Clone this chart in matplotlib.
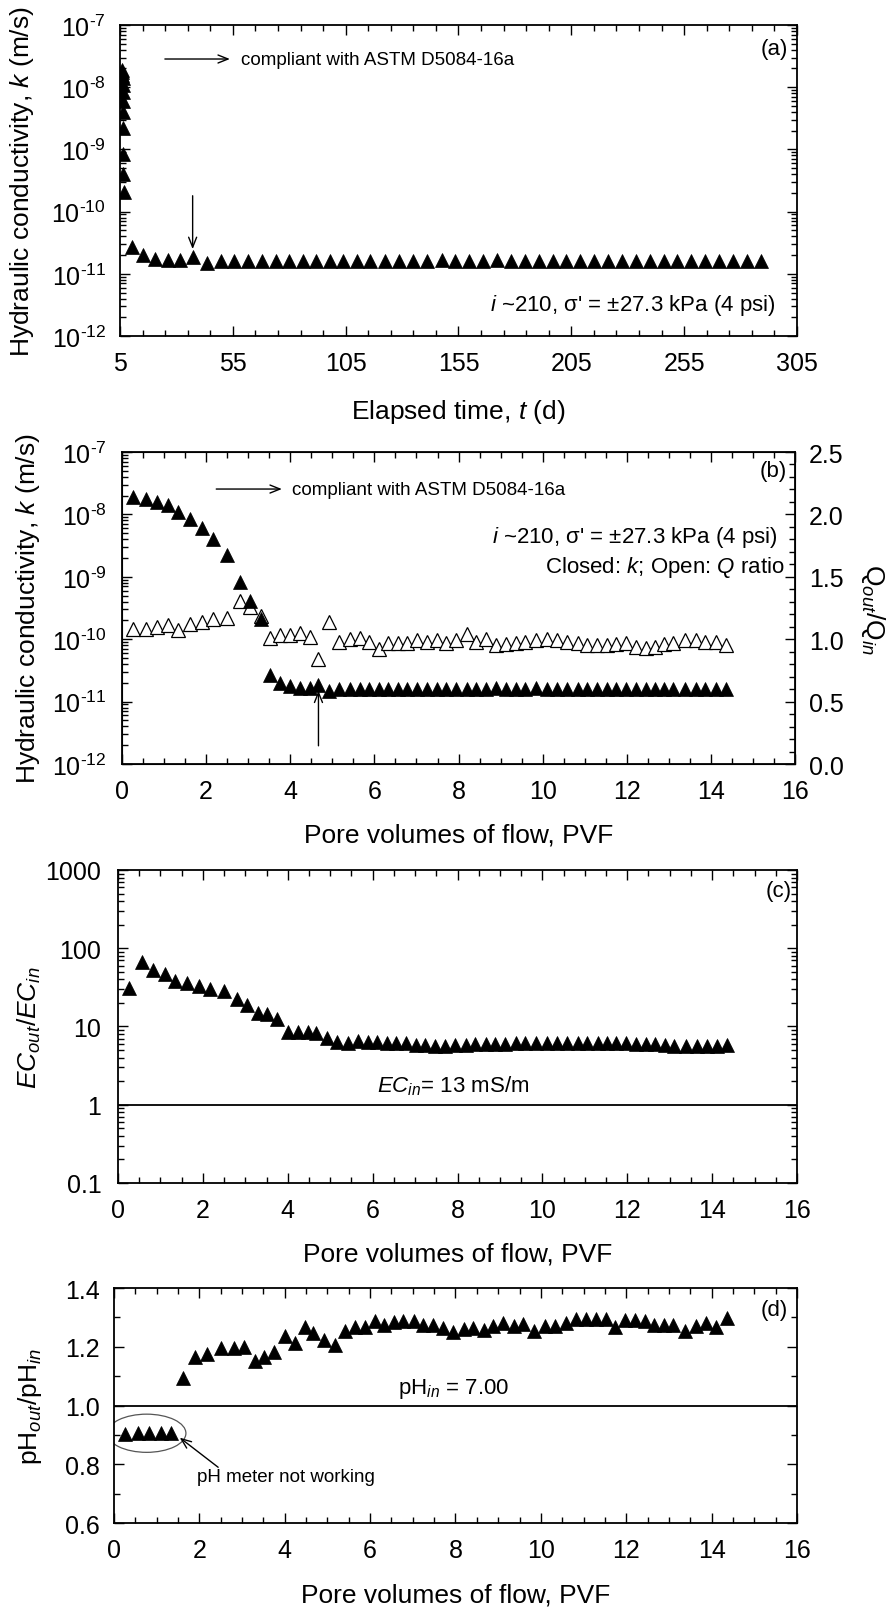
import matplotlib
matplotlib.use("Agg")
import matplotlib.pyplot as plt
import numpy as np
from matplotlib.patches import Ellipse
from matplotlib.ticker import (FixedLocator, MultipleLocator, LogLocator,
                               FuncFormatter, FormatStrFormatter, NullFormatter)

plt.rcParams["font.family"] = ["Liberation Sans", "DejaVu Sans"]
plt.rcParams["mathtext.fontset"] = "custom"
plt.rcParams["mathtext.rm"] = "Liberation Sans"
plt.rcParams["mathtext.it"] = "Liberation Sans:italic"
plt.rcParams["mathtext.bf"] = "Liberation Sans:bold"
plt.rcParams["axes.unicode_minus"] = False

# ---- data ----
# elapsed time (d) for every k reading
time_d = [6.0, 6.1, 6.1, 6.2, 6.2, 6.3, 6.3, 6.4, 6.4, 6.5, 6.5, 6.6,
          10.2, 15.0, 20.5, 26.4, 31.6, 37.2, 43.7, 49.6, 55.6, 61.8,
          67.8, 74.1, 80.0, 85.9, 91.8, 98.0, 103.9, 110.1, 116.0, 122.4,
          128.6, 134.9, 141.2, 147.5, 153.6, 159.8, 165.9, 172.1, 178.2,
          184.4, 190.5, 196.7, 202.8, 209.0, 215.1, 221.3, 227.4, 233.6,
          239.7, 245.9, 252.0, 258.2, 264.3, 270.5, 276.6, 282.8, 288.9]

# pore volumes of flow for the same readings
pvf = [0.25, 0.56, 0.83, 1.10, 1.34, 1.62, 1.90, 2.17, 2.50, 2.81, 3.05, 3.31,
       3.51, 3.75, 4.00, 4.23, 4.47, 4.67, 4.93, 5.17, 5.41, 5.65, 5.88, 6.11,
       6.33, 6.56, 6.78, 7.02, 7.24, 7.48, 7.70, 7.95, 8.19, 8.42, 8.66, 8.89,
       9.12, 9.37, 9.59, 9.85, 10.10, 10.34, 10.59, 10.83, 11.06, 11.30, 11.53,
       11.74, 11.98, 12.21, 12.45, 12.66, 12.89, 13.10, 13.38, 13.64, 13.87,
       14.11, 14.36]

k_ms = [1.9e-8, 1.75e-8, 1.6e-8, 1.4e-8, 1.1e-8, 8.5e-9, 6.0e-9, 4.0e-9,
        2.2e-9, 8.3e-10, 4.1e-10, 2.1e-10,
        2.7e-11, 2.0e-11, 1.75e-11, 1.65e-11, 1.65e-11, 1.85e-11, 1.5e-11,
        1.6e-11, 1.6e-11, 1.62e-11, 1.62e-11, 1.6e-11, 1.6e-11, 1.62e-11,
        1.62e-11, 1.62e-11, 1.6e-11, 1.62e-11, 1.62e-11, 1.6e-11, 1.62e-11,
        1.62e-11, 1.62e-11, 1.65e-11, 1.62e-11, 1.62e-11, 1.62e-11, 1.65e-11,
        1.62e-11, 1.62e-11, 1.6e-11, 1.62e-11, 1.62e-11, 1.62e-11, 1.6e-11,
        1.62e-11, 1.62e-11, 1.62e-11, 1.62e-11, 1.6e-11, 1.62e-11, 1.62e-11,
        1.62e-11, 1.62e-11, 1.62e-11, 1.62e-11, 1.62e-11]

q_ratio = [1.08, 1.08, 1.10, 1.11, 1.07, 1.12, 1.14, 1.16, 1.17, 1.31, 1.26, 1.19,
           1.01, 1.03, 1.03, 1.05, 1.02, 0.84, 1.14, 0.98, 1.00, 1.01,
           0.98, 0.92, 0.97, 0.97, 0.97, 0.99, 0.98, 0.99, 0.97,
           0.99, 1.04, 0.975, 1.00, 0.95, 0.96, 0.97, 0.975, 0.99, 1.00,
           0.99, 0.975, 0.97, 0.95, 0.955, 0.955, 0.96, 0.97, 0.935, 0.93,
           0.935, 0.96, 0.97, 0.99, 0.99, 0.975, 0.975, 0.955]

ec_ratio = [30.8, 66, 53, 47, 38, 36, 33, 30, 28.7, 22.4,
            18.8, 14.9, 14.5, 12.5, 8.6, 8.6, 8.4, 8.3, 7.1, 6.3,
            6.2, 6.6, 6.4, 6.4, 6.2, 6.2, 6.2, 5.85, 5.85, 5.7, 5.7,
            5.8, 5.8, 5.9, 5.9, 6.0, 6.0, 6.1, 6.1, 6.1, 6.1,
            6.1, 6.1, 6.1, 6.1, 6.1, 6.1, 6.1, 6.1, 6.0, 6.0,
            6.0, 5.8, 5.7, 5.7, 5.7, 5.7, 5.7, 5.8]

ph_ratio = [0.903, 0.906, 0.906, 0.906, 0.908,
            1.093, 1.164, 1.175, 1.195, 1.195, 1.198, 1.153, 1.167, 1.183, 1.236,
            1.213, 1.266, 1.247, 1.224, 1.206, 1.255, 1.266, 1.266, 1.289, 1.274,
            1.285, 1.289, 1.289, 1.274, 1.274, 1.263,
            1.249, 1.26, 1.263, 1.258, 1.272, 1.281, 1.27, 1.277, 1.255, 1.272,
            1.27, 1.281, 1.294, 1.294, 1.294, 1.294, 1.266, 1.29, 1.29, 1.288,
            1.274, 1.274, 1.274, 1.255, 1.27, 1.281, 1.266, 1.297]

PH_BROKEN = 5  # first readings taken while the pH meter was off

TICK_FS = 18
LABEL_FS = 19
NOTE_FS = 16
SMALL_FS = 13.5
MS = 10.3


def log_fmt(v, pos):
    return r"$\mathregular{10^{\text{%d}}}$" % int(round(np.log10(v)))


def style(ax, pad_y, right=True):
    ax.tick_params(which="both", direction="in", top=True, right=right,
                   labelsize=TICK_FS, width=1.0)
    ax.tick_params(which="major", length=7)
    ax.tick_params(which="minor", length=4)
    ax.tick_params(axis="x", pad=11)
    ax.tick_params(axis="y", pad=pad_y)
    for s in ax.spines.values():
        s.set_linewidth(1.3)


def k_axis(ax):
    ax.set_yscale("log")
    ax.set_ylim(1e-12, 1e-7)
    ax.yaxis.set_major_locator(LogLocator(base=10, numticks=10))
    ax.yaxis.set_minor_locator(LogLocator(base=10, subs=np.arange(2, 10), numticks=10))
    ax.yaxis.set_major_formatter(FuncFormatter(log_fmt))
    ax.yaxis.set_minor_formatter(NullFormatter())


def pvf_axis(ax, label_y):
    ax.set_xlim(0, 16)
    ax.xaxis.set_major_locator(MultipleLocator(2))
    ax.xaxis.set_minor_locator(MultipleLocator(0.5))
    ax.set_xlabel("Pore volumes of flow, PVF", fontsize=LABEL_FS)
    ax.xaxis.set_label_coords(0.5, label_y)


arrow_kw = dict(arrowstyle="->,head_length=0.45,head_width=0.18", color="black",
                lw=1.0, shrinkA=0, shrinkB=0, mutation_scale=16)

fig = plt.figure(figsize=(8.94, 16.15), dpi=100)

# ---------------- (a) k vs time ----------------
ax_a = fig.add_axes([0.1342, 0.7913, 0.7573, 0.1926])
ax_a.plot(time_d, k_ms, "^", color="black", ms=MS, mec="black", mew=0.5)
k_axis(ax_a)
ax_a.set_xlim(5, 305)
ax_a.xaxis.set_major_locator(FixedLocator(np.arange(5, 306, 50)))
ax_a.xaxis.set_minor_locator(FixedLocator(np.arange(5, 306, 10)))
style(ax_a, 10)
ax_a.set_xlabel(r"Elapsed time, $t$ (d)", fontsize=LABEL_FS)
ax_a.xaxis.set_label_coords(0.5, -0.196)
ax_a.set_ylabel(r"Hydraulic conductivity, $k$ (m/s)", fontsize=LABEL_FS, va="center")
ax_a.yaxis.set_label_coords(-0.145, 0.5)
ax_a.annotate("", xy=(53.7, 2.84e-8), xytext=(24.9, 2.84e-8), arrowprops=arrow_kw)
ax_a.text(58.5, 2.84e-8, "compliant with ASTM D5084-16a", fontsize=SMALL_FS,
          ha="left", va="center")
ax_a.annotate("", xy=(time_d[17], 2.5e-11), xytext=(time_d[17], 1.8e-10),
              arrowprops=arrow_kw)
ax_a.text(0.968, 0.103, r"$i$ ~210, σ' = ±27.3 kPa (4 psi)", fontsize=NOTE_FS,
          ha="right", va="center", transform=ax_a.transAxes)
ax_a.text(0.987, 0.925, "(a)", fontsize=NOTE_FS, ha="right", va="center",
          transform=ax_a.transAxes)

# ---------------- (b) k and Q ratio vs PVF ----------------
ax_b = fig.add_axes([0.1365, 0.5263, 0.7528, 0.1932])
ax_b.plot(pvf, k_ms, "^", color="black", ms=MS, mec="black", mew=0.5, zorder=3)
k_axis(ax_b)
style(ax_b, 11, right=False)
pvf_axis(ax_b, -0.188)
ax_b.set_ylabel(r"Hydraulic conductivity, $k$ (m/s)", fontsize=LABEL_FS, va="center")
ax_b.yaxis.set_label_coords(-0.140, 0.5)

ax_q = ax_b.twinx()
ax_q.plot(pvf, q_ratio, "^", mfc="white", mec="black", ms=MS + 0.3, mew=0.9, zorder=2)
ax_q.set_ylim(0, 2.5)
ax_q.yaxis.set_major_locator(MultipleLocator(0.5))
ax_q.yaxis.set_minor_locator(MultipleLocator(0.1))
ax_q.yaxis.set_major_formatter(FormatStrFormatter("%.1f"))
ax_q.tick_params(which="both", direction="in", labelsize=TICK_FS, width=1.0, pad=10)
ax_q.tick_params(which="major", length=7)
ax_q.tick_params(which="minor", length=4)
ax_q.set_ylabel(r"Q$_{\it{out}}$/Q$_{\it{in}}$", fontsize=LABEL_FS, rotation=270,
                va="center", ha="center")
ax_q.yaxis.set_label_coords(1.116, 0.5)
ax_b.set_zorder(ax_q.get_zorder() + 1)
ax_b.patch.set_visible(False)

ax_b.annotate("", xy=(3.80, 2.55e-8), xytext=(2.24, 2.55e-8), arrowprops=arrow_kw)
ax_b.text(4.04, 2.55e-8, "compliant with ASTM D5084-16a", fontsize=SMALL_FS,
          ha="left", va="center")
ax_b.annotate("", xy=(pvf[17], 1.5e-11), xytext=(pvf[17], 1.96e-12),
              arrowprops=arrow_kw)
ax_b.text(0.974, 0.73, r"$i$ ~210, σ' = ±27.3 kPa (4 psi)", fontsize=NOTE_FS,
          ha="right", va="center", transform=ax_b.transAxes)
ax_b.text(0.985, 0.632, r"Closed: $k$; Open: $Q$ ratio", fontsize=NOTE_FS,
          ha="right", va="center", transform=ax_b.transAxes)
ax_b.text(0.988, 0.94, "(b)", fontsize=NOTE_FS, ha="right", va="center",
          transform=ax_b.transAxes)

# ---------------- (c) EC ratio ----------------
ax_c = fig.add_axes([0.1320, 0.2669, 0.7595, 0.1938])
ax_c.plot(pvf, ec_ratio, "^", color="black", ms=MS, mec="black", mew=0.5)
ax_c.axhline(1, color="black", lw=1.3)
ax_c.set_yscale("log")
ax_c.set_ylim(0.1, 1000)
ax_c.yaxis.set_major_locator(LogLocator(base=10, numticks=10))
ax_c.yaxis.set_minor_locator(LogLocator(base=10, subs=np.arange(2, 10), numticks=10))
ax_c.yaxis.set_major_formatter(FuncFormatter(lambda v, p: "%g" % v))
ax_c.yaxis.set_minor_formatter(NullFormatter())
style(ax_c, 12)
pvf_axis(ax_c, -0.1875)
ax_c.set_ylabel(r"$EC_{out}/EC_{in}$", fontsize=LABEL_FS, va="center")
ax_c.yaxis.set_label_coords(-0.131, 0.5)
ax_c.text(7.9, 1.25, r"$EC_{in}$= 13 mS/m", fontsize=NOTE_FS, ha="center", va="bottom")
ax_c.text(0.992, 0.934, "(c)", fontsize=NOTE_FS, ha="right", va="center",
          transform=ax_c.transAxes)

# ---------------- (d) pH ratio ----------------
ax_d = fig.add_axes([0.1275, 0.0563, 0.7640, 0.1455])
ax_d.plot(pvf, ph_ratio, "^", color="black", ms=MS, mec="black", mew=0.5)
ax_d.axhline(1, color="black", lw=1.3)
ax_d.set_ylim(0.6, 1.4)
ax_d.yaxis.set_major_locator(MultipleLocator(0.2))
ax_d.yaxis.set_minor_locator(MultipleLocator(0.1))
ax_d.yaxis.set_major_formatter(FormatStrFormatter("%.1f"))
style(ax_d, 10.5)
pvf_axis(ax_d, -0.254)
ax_d.set_ylabel(r"pH$_{\it{out}}$/pH$_{\it{in}}$", fontsize=LABEL_FS, va="center")
ax_d.yaxis.set_label_coords(-0.123, 0.5)
ax_d.text(7.95, 1.02, r"pH$_{\it{in}}$ = 7.00", fontsize=NOTE_FS, ha="center", va="bottom")

bx = np.array(pvf[:PH_BROKEN])
by = np.array(ph_ratio[:PH_BROKEN])
ax_d.add_patch(Ellipse(((bx.min() + bx.max()) / 2 - 0.03, by.mean()),
                       bx.max() - bx.min() + 0.75, 0.13,
                       fill=False, edgecolor="#555555", lw=0.9))
ax_d.annotate("", xy=(bx.max() + 0.2, by.mean() - 0.015), xytext=(2.44, 0.79),
              arrowprops=arrow_kw)
ax_d.text(1.95, 0.757, "pH meter not working", fontsize=SMALL_FS, ha="left", va="center")
ax_d.text(0.987, 0.911, "(d)", fontsize=NOTE_FS, ha="right", va="center",
          transform=ax_d.transAxes)

fig.savefig("out.png", dpi=100)
